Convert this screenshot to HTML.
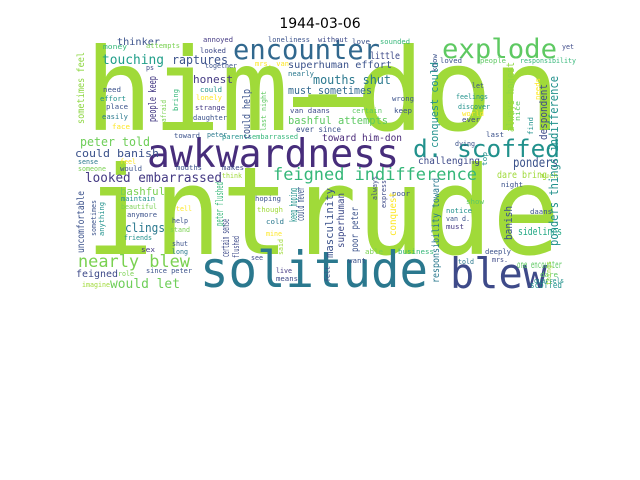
<!DOCTYPE html>
<html><head><meta charset="utf-8"><style>
html,body{margin:0;padding:0;background:#fff;width:640px;height:480px;overflow:hidden}
svg{display:block}
text{font-family:"DejaVu Sans Mono","Liberation Mono",monospace}
</style></head><body>
<svg id="cloud" width="640" height="480">
<text x="320" y="28" text-anchor="middle" style="font-family:'DejaVu Sans','Liberation Sans',sans-serif" font-size="14" fill="#000">1944-03-06</text>
<g id="words"></g>
</svg>
<script>
// horizontal words: text, x-left, baseline, width, font-size, color
const hWords = [
["him-don",85,130,475,114,"#a0da39"],
["intrude",86,254,474,122,"#a0da39"],
["awkwardness",147,167,252,39,"#472d7b"],
["solitude",200,287,228,50,"#2a788e"],
["blew",450,288,97,42,"#3e4a89"],
["encounter",233,59,147,28,"#31688e"],
["explode",442,58,115,27,"#5ec962"],
["d. scoffed",413,157,147,24,"#21918c"],
["feigned indifference",273,180,204,17,"#35b779"],
["nearly blew",78,267,112,17,"#7ad151"],
["looked embarrassed",85,182,137,13,"#443983"],
["touching",102,64,62,13,"#1f9e89"],
["raptures",172,64,56,12,"#3b528b"],
["thinker",117,45,43,10,"#3b528b"],
["honest",193,83,40,11,"#443a83"],
["peter told",80,146,70,12,"#6ece58"],
["could banish",75,157,84,11,"#3b528b"],
["would let",110,288,70,13,"#6ece58"],
["feigned",76,277,42,10,"#3e4a89"],
["bashful",120,195,45,11,"#7ad151"],
["clings",125,232,40,12,"#2a788e"],
["superhuman effort",288,68,104,10,"#3b528b"],
["mouths shut",313,84,78,12,"#2a788e"],
["must sometimes",288,94,84,11,"#31688e"],
["bashful attempts",288,124,100,11,"#5ec962"],
["ever since",296,132,45,8,"#3b528b"],
["toward him-don",322,141,80,10,"#482878"],
["ponders",513,167,45,13,"#3b528b"],
["dare bring",497,178,50,10,"#a0da39"],
["challenging",418,164,62,10,"#3e4a89"],
["sidelines",518,235,44,11,"#22a884"],
["one encounter",517,268,45,10,"#5ec962"],
["scoffed",530,288,32,9,"#21918c"],
["little",370,59,30,10,"#3e4a89"],
["sounded",380,44,30,7,"#35b779"],
["love",352,44,18,7,"#3b528b"],
["without",318,42,30,7,"#3e4a89"],
["loneliness",268,42,42,7,"#3b528b"],
["annoyed",203,42,30,7,"#443983"],
["attempts",146,48,34,7,"#7ad151"],
["money",103,49,24,7,"#35b779"],
["looked",200,53,26,7,"#3e4a89"],
["together",205,68,32,7,"#3b528b"],
["mrs. van",255,66,34,7,"#fde725"],
["nearly",288,76,26,7,"#2a788e"],
["ps",146,70,8,7,"#3e4a89"],
["could",200,92,22,7,"#21918c"],
["need",103,92,18,7,"#3b528b"],
["lonely",196,100,26,7,"#fde725"],
["effort",100,101,26,7,"#21918c"],
["strange",195,110,30,7,"#443983"],
["place",106,109,22,7,"#3b528b"],
["easily",102,119,26,7,"#2a788e"],
["daughter",193,120,34,7,"#3b528b"],
["van daans",290,113,40,7,"#3e4a89"],
["certain",352,113,30,7,"#5ec962"],
["face",112,129,18,7,"#fde725"],
["toward",174,138,26,7,"#3b528b"],
["peter",207,137,20,7,"#2a788e"],
["parents",222,139,30,7,"#21918c"],
["embarrassed",252,139,46,7,"#35b779"],
["sense",78,164,20,7,"#2a788e"],
["feel",120,164,16,7,"#fde725"],
["someone",78,171,28,7,"#7ad151"],
["would",120,171,22,7,"#3b528b"],
["mouths",176,170,26,7,"#3b528b"],
["makes",222,170,22,7,"#3e4a89"],
["think",222,178,20,7,"#a0da39"],
["maintain",121,201,34,7,"#21918c"],
["beautiful",121,209,36,7,"#7ad151"],
["hoping",255,201,26,7,"#3b528b"],
["tell",176,211,16,7,"#fde725"],
["though",257,212,26,7,"#a0da39"],
["anymore",127,217,30,7,"#3b528b"],
["help",172,223,16,7,"#3b528b"],
["cold",266,224,18,7,"#2a788e"],
["stand",170,232,20,7,"#7ad151"],
["friends",124,240,28,7,"#21918c"],
["mine",266,236,16,7,"#fde725"],
["shut",172,246,16,7,"#3b528b"],
["sex",141,252,14,7,"#443983"],
["long",172,254,16,7,"#2a788e"],
["see",251,260,12,7,"#3e4a89"],
["since peter",146,273,46,7,"#3b528b"],
["role",118,276,16,7,"#7ad151"],
["live",276,273,16,7,"#443983"],
["means",276,281,22,7,"#3e4a89"],
["imagine",82,287,28,7,"#a0da39"],
["loved",440,63,22,7,"#3b528b"],
["people",480,63,26,7,"#5ec962"],
["responsibility",520,63,56,7,"#35b779"],
["let",472,88,12,7,"#3b528b"],
["feelings",456,99,32,7,"#21918c"],
["wrong",392,101,22,7,"#3b528b"],
["discover",458,109,32,7,"#21918c"],
["world",462,116,22,7,"#fde725"],
["ever",462,122,18,7,"#3e4a89"],
["keep",394,113,18,7,"#3b528b"],
["last",486,137,18,7,"#3b528b"],
["dying",455,146,20,7,"#3b528b"],
["yet",562,49,12,7,"#3e4a89"],
["poor",392,196,18,7,"#3b528b"],
["show",466,204,18,7,"#5ec962"],
["notice",446,213,26,7,"#21918c"],
["van d.",446,221,24,7,"#3b528b"],
["must",446,229,18,7,"#443983"],
["daans",530,214,22,7,"#3b528b"],
["able",365,254,18,7,"#7ad151"],
["business",398,254,36,7,"#35b779"],
["deeply",485,254,26,7,"#3b528b"],
["mrs.",492,262,16,7,"#3e4a89"],
["told",458,264,16,7,"#2a788e"],
["dare",540,277,18,7,"#5ec962"],
["quarrels",534,283,30,7,"#21918c"],
["night",501,187,22,7,"#3b528b"],
["much",540,178,18,7,"#a0da39"],
["want",348,263,18,7,"#3b528b"]
];
// vertical words (read bottom-to-top): text, baseline-x, bottom-y, length, font-size, color
const vWords = [
["sometimes feel",84,124,72,10,"#8fd744"],
["people keep",156,122,46,11,"#443983"],
["could help",250,139,50,11,"#3b528b"],
["bring",178,111,22,7,"#35b779"],
["afraid",166,122,22,7,"#7ad151"],
["last night",266,131,40,7,"#5ec962"],
["uncomfortable",84,253,62,10,"#3b528b"],
["sometimes",96,236,36,7,"#3b528b"],
["anything",104,236,34,7,"#21918c"],
["peter flushed",223,226,44,11,"#35b779"],
["certain sense",229,257,38,11,"#3e4a89"],
["flushed",239,258,22,9,"#3e4a89"],
["could never",304,221,34,11,"#3b528b"],
["keep hoping",297,222,34,11,"#21918c"],
["said",283,255,16,7,"#a0da39"],
["conquest could",438,148,86,11,"#21918c"],
["always honest",514,132,70,11,"#8fd744"],
["despondent",547,140,56,11,"#3e4a89"],
["ponders things indifference",558,246,170,12,"#21918c"],
["responsibility toward",439,283,105,10,"#2a788e"],
["masculinity",333,258,70,11,"#3b528b"],
["superhuman",344,248,55,10,"#3e4a89"],
["poor peter",358,252,45,10,"#3b528b"],
["conquest",396,236,44,10,"#fde725"],
["always",377,200,24,7,"#3e4a89"],
["express",386,208,28,7,"#3e4a89"],
["banish",512,240,34,11,"#3b528b"],
["find",533,135,18,7,"#21918c"],
["nice",520,121,20,7,"#5ec962"],
["needs",540,100,22,7,"#fde725"],
["felt",330,282,16,7,"#3b528b"],
["things",551,285,24,7,"#a0da39"],
["top",487,166,14,7,"#21918c"],
["know",437,72,18,7,"#3b528b"]
];
const NS = "http://www.w3.org/2000/svg";
const g = document.getElementById("words");
function addWord(w, vertical) {
  const t = document.createElementNS(NS, "text");
  t.textContent = w[0];
  t.setAttribute("font-size", w[4]);
  t.setAttribute("fill", w[5]);
  t.setAttribute("textLength", w[3]);
  t.setAttribute("lengthAdjust", "spacingAndGlyphs");
  if (vertical) {
    t.setAttribute("x", 0); t.setAttribute("y", 0);
    t.setAttribute("transform", "translate(" + w[1] + "," + w[2] + ") rotate(-90)");
  } else {
    t.setAttribute("x", w[1]); t.setAttribute("y", w[2]);
  }
  
  
  g.appendChild(t);
}
hWords.forEach(w => addWord(w, false));
vWords.forEach(w => addWord(w, true));
// thick hyphen of "him-don" as drawn in the reference font
const hy = document.createElementNS(NS, "rect");
hy.setAttribute("x", 293); hy.setAttribute("y", 97);
hy.setAttribute("width", 74); hy.setAttribute("height", 10);
hy.setAttribute("fill", "#a0da39");


g.appendChild(hy);
</script>
</body></html>
